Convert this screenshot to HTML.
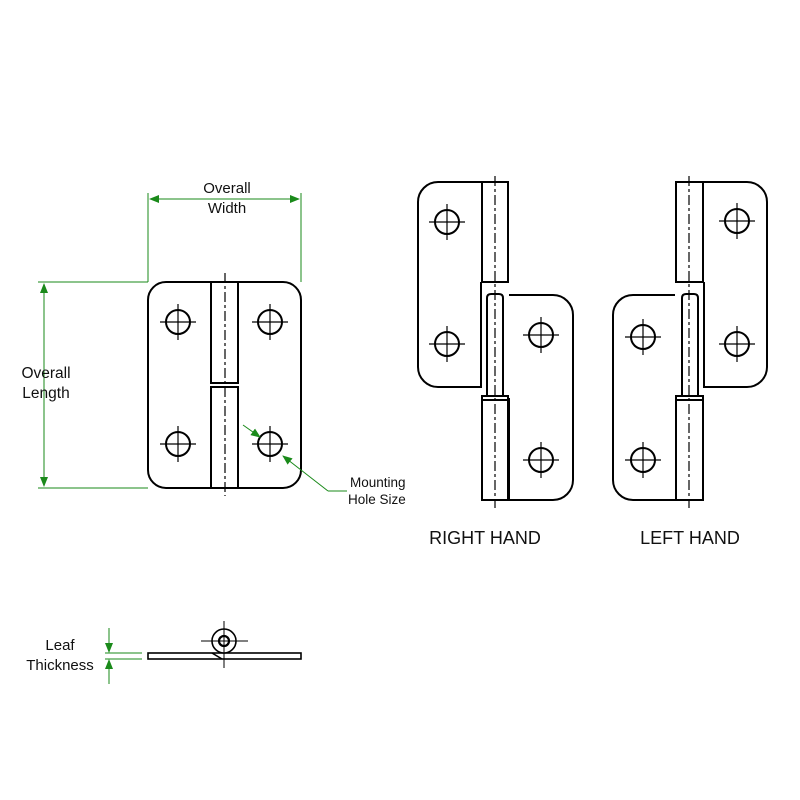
<!DOCTYPE html>
<html><head><style>body{margin:0;background:#fff}svg{display:block}text{font-family:"Liberation Sans",sans-serif;fill:#111}</style></head><body>
<svg width="800" height="800" viewBox="0 0 800 800" xmlns="http://www.w3.org/2000/svg">
<defs>
<marker id="a" markerWidth="10" markerHeight="8" refX="9" refY="4" orient="auto" markerUnits="userSpaceOnUse"><path d="M0,0 L10,4 L0,8z" fill="#1a8a1a"/></marker>
<g id="h"><circle r="12" fill="none" stroke="#000" stroke-width="2"/><path d="M-18,0H18M0,-18V18" stroke="#000" stroke-width="1.2"/></g>
</defs>
<g fill="none" stroke="#000" stroke-width="2">
<rect x="148" y="282" width="153" height="206" rx="18"/>
<path d="M211,282V383H238V282M211,488V387H238V488M210,383H239M210,387H239"/>
</g>
<path d="M225,273V496" stroke="#000" stroke-width="1.2" stroke-dasharray="10,3,3,3"/>
<use href="#h" x="178" y="322"/><use href="#h" x="270" y="322"/><use href="#h" x="178" y="444"/><use href="#h" x="270" y="444"/>

<g fill="none" stroke="#000" stroke-width="2">
<path d="M481,182H438A20,20 0 0 0 418,202V367A20,20 0 0 0 438,387H481V282"/>
<path d="M482,182H508V282H482Z"/>
<path d="M487,298Q487,294 491,294H499Q503,294 503,298V396H487Z"/>
<path d="M509,295H553A20,20 0 0 1 573,315V480A20,20 0 0 1 553,500H509V398"/>
<path d="M482,396H508V500H482Z M482,400H508"/>
</g>
<path d="M495,176V508" stroke="#000" stroke-width="1.2" stroke-dasharray="10,3,3,3"/>
<use href="#h" x="447" y="222"/><use href="#h" x="447" y="344"/><use href="#h" x="541" y="335"/><use href="#h" x="541" y="460"/>

<g fill="none" stroke="#000" stroke-width="2">
<path d="M703,182H747A20,20 0 0 1 767,202V367A20,20 0 0 1 747,387H704V282"/>
<path d="M676,182H703V282H676Z"/>
<path d="M682,298Q682,294 686,294H694Q698,294 698,298V396H682Z"/>
<path d="M675,295H633A20,20 0 0 0 613,315V480A20,20 0 0 0 633,500H676V398"/>
<path d="M676,396H703V500H676Z M676,400H703"/>
</g>
<path d="M689,176V508" stroke="#000" stroke-width="1.2" stroke-dasharray="10,3,3,3"/>
<use href="#h" x="737" y="221"/><use href="#h" x="737" y="344"/><use href="#h" x="643" y="337"/><use href="#h" x="643" y="460"/>

<text x="485" y="544" font-size="18" text-anchor="middle">RIGHT HAND</text>
<text x="690" y="544" font-size="18" text-anchor="middle">LEFT HAND</text>

<g stroke="#1a8a1a" stroke-width="1" fill="none">
<path d="M148,193V282M301,193V282"/>
<path d="M150,199H299" marker-end="url(#a)"/><path d="M299,199H150" marker-end="url(#a)"/>
<path d="M38,282H148M38,488H148"/>
<path d="M44,284V486" marker-end="url(#a)"/><path d="M44,486V284" marker-end="url(#a)"/>
<path d="M243,425L260,437" marker-end="url(#a)"/>
<path d="M328,491L283,456" marker-end="url(#a)"/><path d="M328,491H347"/>
<path d="M105,653H142M105,659H142"/>
<path d="M109,628V652" marker-end="url(#a)"/><path d="M109,684V660" marker-end="url(#a)"/>
</g>
<text x="227" y="193" font-size="15" text-anchor="middle">Overall</text>
<text x="227" y="213" font-size="15" text-anchor="middle">Width</text>
<text x="46" y="378" font-size="15.5" text-anchor="middle">Overall</text>
<text x="46" y="398" font-size="15.5" text-anchor="middle">Length</text>
<text x="350" y="487" font-size="13.5">Mounting</text>
<text x="348" y="504" font-size="13.5">Hole Size</text>
<text x="60" y="650" font-size="15" text-anchor="middle">Leaf</text>
<text x="60" y="670" font-size="15" text-anchor="middle">Thickness</text>

<g fill="none" stroke="#000" stroke-width="1.6">
<rect x="148" y="653" width="153" height="6" fill="#fff"/>
<circle cx="224" cy="641" r="12" fill="#fff"/>
<circle cx="224" cy="641" r="5" stroke-width="2.2"/>
<path d="M212,653L222,659"/>
</g>
<path d="M201,641H248M224,621V668" stroke="#000" stroke-width="1"/>
</svg>
</body></html>
